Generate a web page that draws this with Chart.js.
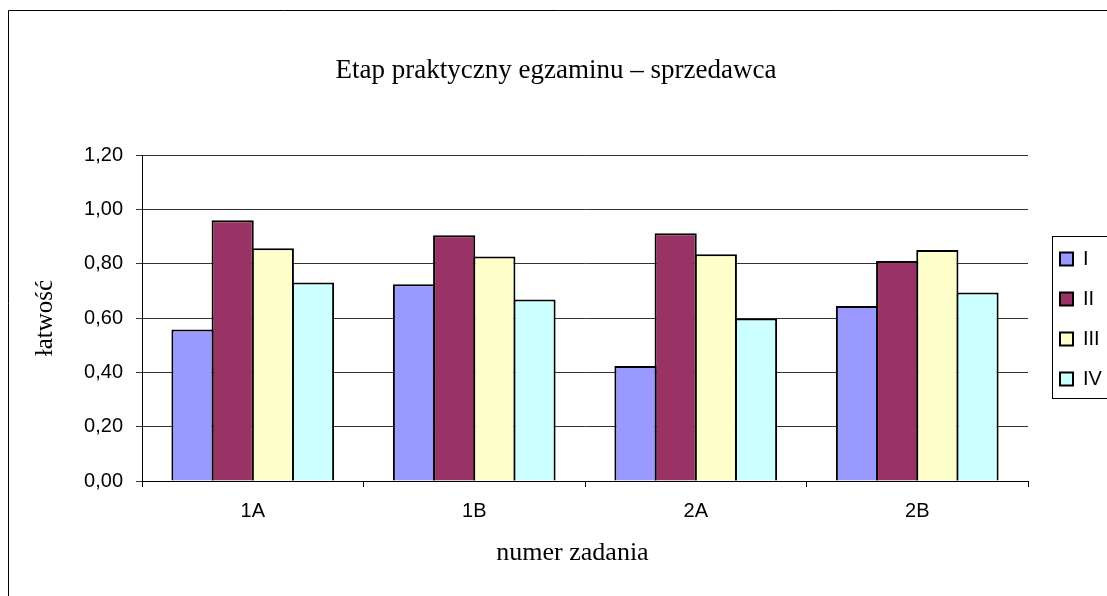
<!DOCTYPE html>
<html>
<head>
<meta charset="utf-8">
<script src="https://cdn.jsdelivr.net/npm/chart.js@4/dist/chart.umd.min.js"></script>
<style>
  html, body { margin: 0; padding: 0; background: #fff; }
  #wrap { width: 1107px; height: 596px; position: relative; }
</style>
</head>
<body>
<div id="wrap"><canvas id="c" width="1107" height="596"></canvas></div>
<script>
// ---- data ----
const categories = ['1A', '1B', '2A', '2B'];
const seriesNames = ['I', 'II', 'III', 'IV'];
const seriesI   = [0.558, 0.724, 0.423, 0.644];
const seriesII  = [0.960, 0.905, 0.912, 0.810];
const seriesIII = [0.857, 0.826, 0.835, 0.850];
const seriesIV  = [0.731, 0.668, 0.598, 0.694];
const yTickLabels = ['0,00', '0,20', '0,40', '0,60', '0,80', '1,00', '1,20'];
const chartTitle = 'Etap praktyczny egzaminu \u2013 sprzedawca';
const xTitle = 'numer zadania';
const yTitle = '\u0142atwo\u015b\u0107';

const colors = ['#9999FF', '#993366', '#FFFFCC', '#CCFFFF'];
const seriesValues = [seriesI, seriesII, seriesIII, seriesIV];

Chart.defaults.font.family = "'Liberation Sans', Arial, sans-serif";
Chart.defaults.color = '#000';

const framePlugin = {
  id: 'frame',
  beforeDraw(chart) {
    const ctx = chart.ctx;
    ctx.save();
    ctx.fillStyle = '#fff';
    ctx.fillRect(0, 0, chart.width, chart.height);
    ctx.strokeStyle = '#000';
    ctx.lineWidth = 1;
    ctx.beginPath();
    ctx.moveTo(8.5, chart.height + 5);
    ctx.lineTo(8.5, 10.5);
    ctx.lineTo(chart.width + 5, 10.5);
    ctx.stroke();
    ctx.restore();
  },
  afterLayout(chart) {
    const l = chart.legend;
    l.left = 1040; l.right = 1107; l.width = 67;
    l.top = 42; l.bottom = 596; l.height = 554;
    const t = chart.titleBlock;
    t.left = 0; t.right = 1112; t.width = 1112;
    const xs = chart.scales.x;
    if (xs && !xs._titleShifted && typeof xs.drawTitle === 'function') {
      const orig = xs.drawTitle;
      xs.drawTitle = function () {
        const l0 = this.left;
        this.left = l0 - 25;
        try { orig.apply(this, arguments); } finally { this.left = l0; }
      };
      xs._titleShifted = true;
    }
  },
  afterDraw(chart) {
    const ctx = chart.ctx;
    ctx.save();
    ctx.strokeStyle = '#000';
    ctx.lineWidth = 1;
    ctx.strokeRect(1052.5, 236.5, 100, 162);
    ctx.restore();
  }
};

new Chart(document.getElementById('c'), {
  type: 'bar',
  data: {
    labels: categories,
    datasets: seriesNames.map((n, i) => ({
      label: n,
      data: seriesValues[i],
      backgroundColor: colors[i],
      borderColor: '#000',
      borderWidth: 2,
      categoryPercentage: 0.7255,
      barPercentage: 1.05
    }))
  },
  options: {
    responsive: false,
    animation: false,
    devicePixelRatio: 1,
    layout: { padding: { left: 0, right: 39, top: 0, bottom: 0 } },
    plugins: {
      title: {
        display: true,
        text: chartTitle,
        font: { family: "'Liberation Serif', 'Times New Roman', serif", size: 27, weight: 'normal' },
        color: '#000',
        padding: { top: 55, bottom: 67.6 }
      },
      legend: {
        position: 'right',
        maxWidth: 40,
        labels: {
          boxWidth: 13,
          boxHeight: 13,
          padding: 20,
          font: { size: 20 },
          color: '#000'
        }
      },
      tooltip: { enabled: false }
    },
    scales: {
      x: {
        offset: true,
        grid: {
          offset: true,
          drawOnChartArea: false,
          drawTicks: true,
          tickLength: 6,
          color: '#000'
        },
        border: { color: '#000', width: 1 },
        ticks: { font: { size: 20 }, padding: 12, color: '#000' },
        title: {
          display: true,
          text: xTitle,
          font: { family: "'Liberation Serif', 'Times New Roman', serif", size: 26, weight: 'normal' },
          color: '#000',
          padding: { top: 0, bottom: 27 }
        },
        afterFit(s) { s.height = 115; }
      },
      y: {
        min: 0,
        max: 1.2,
        ticks: {
          stepSize: 0.2,
          font: { size: 20 },
          padding: 13,
          color: '#000',
          callback: (v, i) => yTickLabels[i]
        },
        grid: { color: '#333', lineWidth: 1, tickLength: 6 },
        border: { color: '#000', width: 1 },
        title: {
          display: true,
          text: yTitle,
          font: { family: "'Liberation Serif', 'Times New Roman', serif", size: 25, weight: 'normal' },
          color: '#000',
          padding: { top: 30, bottom: 0 }
        },
        afterFit(s) { s.width = 142; }
      }
    }
  },
  plugins: [framePlugin]
});
</script>
</body>
</html>
